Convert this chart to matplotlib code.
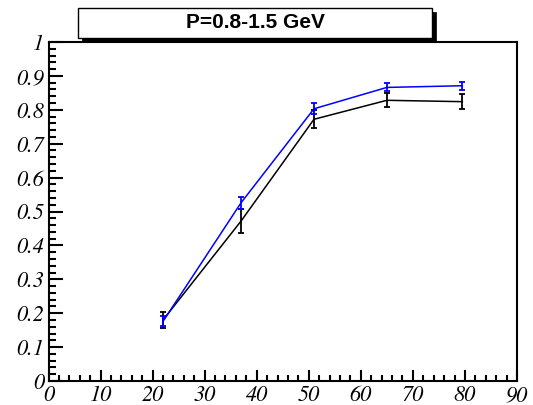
import os
import matplotlib
matplotlib.use("Agg")
import matplotlib.pyplot as plt
from matplotlib.patches import Rectangle
from matplotlib.ticker import MultipleLocator, FixedLocator
from matplotlib import font_manager as fm

# Data
x_vals = [22, 37, 51, 65, 79.5]
black_y = [0.180, 0.472, 0.772, 0.828, 0.824]
black_err = [0.024, 0.036, 0.027, 0.021, 0.022]
blue_y = [0.176, 0.526, 0.803, 0.866, 0.871]
blue_err = [0.015, 0.018, 0.016, 0.012, 0.012]
title_text = "P=0.8-1.5 GeV"
x_ticks = [0, 10, 20, 30, 40, 50, 60, 70, 80, 90]
y_ticks = [0, 0.1, 0.2, 0.3, 0.4, 0.5, 0.6, 0.7, 0.8, 0.9, 1.0]
y_tick_labels = ["0", "0.1", "0.2", "0.3", "0.4", "0.5", "0.6", "0.7", "0.8", "0.9", "1"]

# Times-like italic font for tick labels (STIX ships with matplotlib)
stix_path = os.path.join(matplotlib.get_data_path(), "fonts", "ttf", "STIXGeneralItalic.ttf")
if os.path.exists(stix_path):
    tick_fp = fm.FontProperties(fname=stix_path, size=16)
else:
    tick_fp = fm.FontProperties(family="DejaVu Serif", style="italic", size=14)

W, H = 533, 405
fig = plt.figure(figsize=(W / 100, H / 100), dpi=100)
ax = fig.add_axes([48.5 / W, 1 - 381 / H, (517 - 48.5) / W, (381 - 42) / H])

ax.errorbar(x_vals, black_y, yerr=black_err, color="black", lw=1.1,
            elinewidth=1.3, capsize=2.2, capthick=1.3, zorder=3)
ax.errorbar(x_vals, blue_y, yerr=blue_err, color="#0000ff", lw=1.1,
            elinewidth=1.3, capsize=2.2, capthick=1.3, zorder=4)

ax.set_xlim(0, 90)
ax.set_ylim(0, 1)
ax.xaxis.set_major_locator(FixedLocator(x_ticks))
ax.xaxis.set_minor_locator(MultipleLocator(2))
ax.yaxis.set_major_locator(FixedLocator(y_ticks))
ax.yaxis.set_minor_locator(MultipleLocator(0.02))
ax.set_xticklabels([str(t) for t in x_ticks])
ax.set_yticklabels(y_tick_labels)

ax.tick_params(axis="y", which="major", direction="in", length=10, width=1.5,
               pad=3, left=True, right=False)
ax.tick_params(axis="y", which="minor", direction="in", length=5, width=1.5,
               left=True, right=False)
ax.tick_params(axis="x", which="major", direction="in", length=8, width=1.5,
               pad=3, bottom=True, top=False)
ax.tick_params(axis="x", which="minor", direction="in", length=4, width=1.5,
               bottom=True, top=False)
for s in ax.spines.values():
    s.set_linewidth(1.5)

fig.canvas.draw()
for lab in ax.get_xticklabels() + ax.get_yticklabels():
    lab.set_fontproperties(tick_fp)

# Title box with shadow
bx0, by0, bx1, by1 = 78, 8, 432, 38
sh = 3.5
fig.patches.append(Rectangle(((bx0 + sh) / W, 1 - (by1 + sh) / H), (bx1 - bx0) / W,
                             (by1 - by0) / H, transform=fig.transFigure,
                             facecolor="black", edgecolor="black", lw=0.5, zorder=5))
fig.patches.append(Rectangle((bx0 / W, 1 - by1 / H), (bx1 - bx0) / W,
                             (by1 - by0) / H, transform=fig.transFigure,
                             facecolor="white", edgecolor="black", lw=1.0, zorder=6))
fig.text((bx0 + bx1) / 2 / W, 1 - (by0 + by1) / 2 / H, title_text,
         ha="center", va="center", fontsize=15, fontweight="bold",
         fontstyle="normal", family="Liberation Sans", zorder=7)

fig.savefig("out.png", dpi=100)
